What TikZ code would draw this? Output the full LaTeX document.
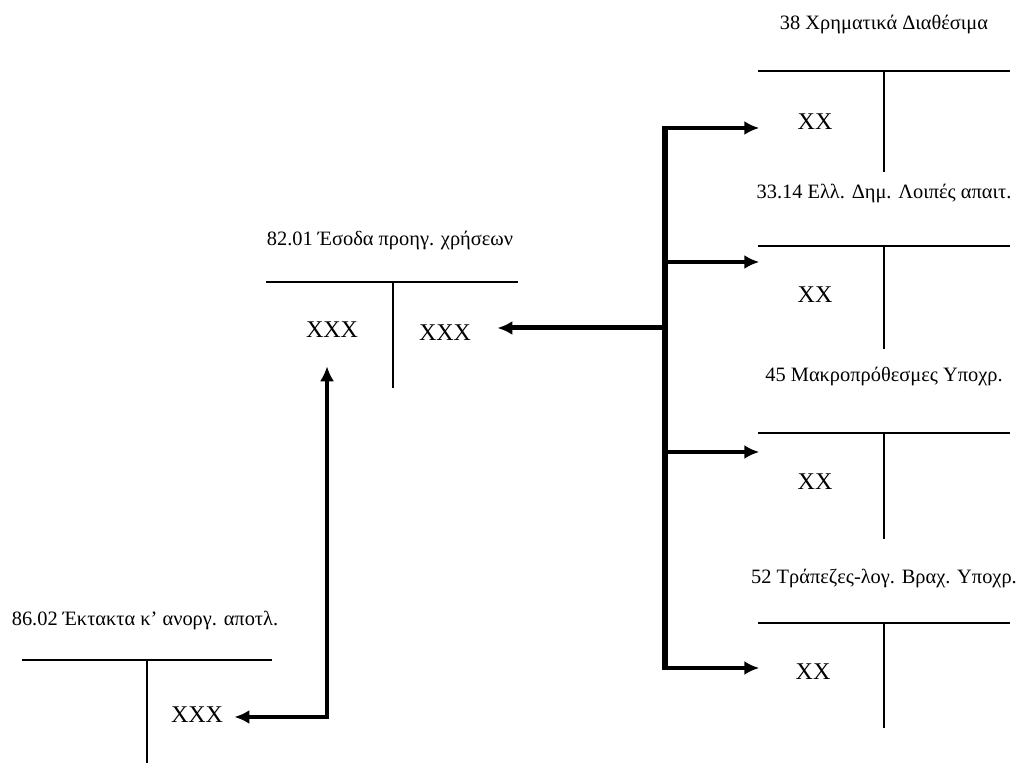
\documentclass[tikz,border=0pt]{standalone}
\usepackage{fontspec}
\setmainfont{Liberation Serif}
\usetikzlibrary{arrows.meta}

\begin{document}
\begin{tikzpicture}[x=0.5pt, y=-0.5pt,
    title/.style={font=\fontsize{10.2}{12}\selectfont, inner sep=0pt},
    amount/.style={font=\fontsize{12}{14}\selectfont, inner sep=0pt},
    tline/.style={line width=0.9pt},
    bus/.style={line width=3pt},
    arr/.style={line width=2pt, -{Latex[length=7.5pt,width=7pt]}}
]
  \useasboundingbox (0,0) rectangle (1023,763);
  % Account titles
  \node[title] (t38) at (884,24) {38 Χρηματικά Διαθέσιμα};
  \node[title] (t3314) at (884,193) {33.14 Ελλ. Δημ. Λοιπές απαιτ.};
  \node[title] (t45) at (884,376) {45 Μακροπρόθεσμες Υποχρ.};
  \node[title] (t52) at (884,578) {52 Τράπεζες-λογ. Βραχ. Υποχρ.};
  \node[title] (t8201) at (390,240) {82.01 Έσοδα προηγ. χρήσεων};
  \node[title] (t8602) at (145,620) {86.02 Έκτακτα κ’ ανοργ. αποτλ.};
  % T-account lines
  \draw[tline] (758,71) -- (1010,71);
  \draw[tline] (884,71) -- (884,172);
  \draw[tline] (758,246) -- (1010,246);
  \draw[tline] (884,246) -- (884,349);
  \draw[tline] (758,433) -- (1010,433);
  \draw[tline] (884,433) -- (884,539);
  \draw[tline] (758,623) -- (1010,623);
  \draw[tline] (884,623) -- (884,728);
  \draw[tline] (266,282) -- (518,282);
  \draw[tline] (393,282) -- (393,388);
  \draw[tline] (22,660) -- (272,660);
  \draw[tline] (147,660) -- (147,763);
  % Amounts
  \node[amount] (xx38) at (815,122) {XX};
  \node[amount] (xx3314) at (815,295) {XX};
  \node[amount] (xx45) at (815,482) {XX};
  \node[amount] (xx52) at (813,672) {XX};
  \node[amount] (xl8201) at (332,330) {XXX};
  \node[amount] (xr8201) at (445,333) {XXX};
  \node[amount] (xx8602) at (197,715) {XXX};
  % Bus and junctions
  \coordinate (j38) at (665,128);
  \coordinate (j3314) at (665,262);
  \coordinate (j8201) at (665,328);
  \coordinate (j45) at (665,452);
  \coordinate (j52) at (665,668);
  \coordinate (c8602) at (327,717);
  \draw[bus] ([yshift=0.8pt]j38) -- ([yshift=-1pt]j52);
  % Arrows
  \draw[arr, shorten >=19pt] (j38) -- (j38 -| xx38.west);
  \draw[arr, shorten >=19pt] (j3314) -- (j3314 -| xx3314.west);
  \draw[arr, shorten >=19pt] (j45) -- (j45 -| xx45.west);
  \draw[arr, shorten >=18pt] (j52) -- (j52 -| xx52.west);
  \draw[arr, line width=2.5pt, shorten >=13pt] (j8201) -- (j8201 -| xr8201.east);
  \draw[arr, shorten >=14pt] ([yshift=-1pt]c8602) -- (c8602 |- xl8201.south);
  \draw[arr, shorten >=5.5pt] ([xshift=-1pt]c8602) -- (c8602 -| xx8602.east);
\end{tikzpicture}
\end{document}
